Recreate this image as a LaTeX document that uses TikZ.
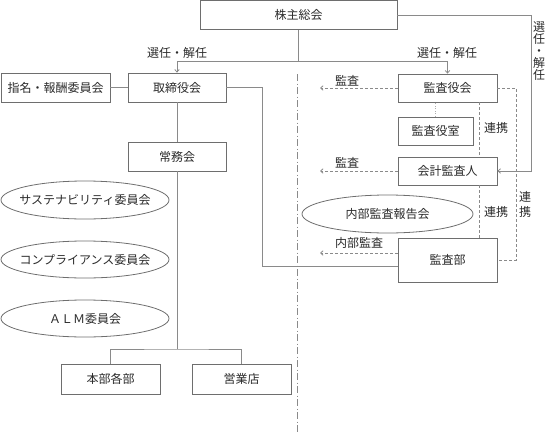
\documentclass[tikz,border=0pt]{standalone}
\usepackage{fontspec}
\setmainfont{Noto Sans CJK JP}
\usetikzlibrary{arrows.meta,shapes.geometric,calc}
\definecolor{boxc}{HTML}{6E6E6E}
\definecolor{linec}{HTML}{8A8A8A}
\definecolor{txt}{HTML}{2A2A2A}
\begin{document}
\begin{tikzpicture}[x=1pt,y=-1pt,
  box/.style={draw=boxc, line width=0.8pt, minimum height=29pt, inner sep=0pt,
    font=\fontsize{12}{13}\selectfont, text=txt},
  oval/.style={ellipse, draw=boxc, line width=0.8pt, inner sep=0pt,
    font=\fontsize{12}{13}\selectfont, text=txt},
  conn/.style={draw=linec, line width=0.8pt},
  dashc/.style={conn, dash pattern=on 3pt off 2pt},
  dotc/.style={draw=linec!70, line width=0.8pt, dash pattern=on 1pt off 1.5pt},
  divider/.style={draw=linec, line width=0.8pt, dash pattern=on 7pt off 2.5pt on 1pt off 2.5pt},
  tip/.style={-{Straight Barb[length=2.5pt,width=4.5pt]}},
  lbl/.style={inner sep=0pt, font=\fontsize{12}{13}\selectfont, text=txt},
  vlbl/.style={inner sep=0pt, align=center, text=txt}
]
\useasboundingbox (0,0) rectangle (546,434);

% nodes
\node[box, minimum width=197pt] (gm) at (298.5,15) {株主総会};
\node[box, minimum width=98pt] (board) at (177,87.5) {取締役会};
\node[box, minimum width=109pt] (nom) at (55.5,87.5) {指名・報酬委員会};
\node[box, minimum width=98pt] (jomu) at (177,156.5) {常務会};
\node[oval, minimum width=168pt, minimum height=38pt] (sus) at (85,200) {\makebox[0pt]{サステナビリティ委員会}};
\node[oval, minimum width=168pt, minimum height=37pt] (comp) at (85,259.5) {\makebox[0pt]{コンプライアンス委員会}};
\node[oval, minimum width=168pt, minimum height=37pt] (alm) at (85,318.5) {\makebox[0pt]{ＡＬＭ委員会}};
\node[box, minimum width=99pt, minimum height=30pt] (honbu) at (110.5,379) {本部各部};
\node[box, minimum width=99pt, minimum height=30pt] (eigyo) at (241.5,379) {営業店};

\node[box, minimum width=99pt, minimum height=28pt] (kyk) at (447.5,88) {監査役会};
\node[box, minimum width=75pt, minimum height=28pt] (shitsu) at (435.5,131) {監査役室};
\node[box, minimum width=99pt, minimum height=28pt] (kaikei) at (447.5,171) {会計監査人};
\node[oval, minimum width=171pt, minimum height=38pt] (naibu) at (387.5,214) {\makebox[0pt]{内部監査報告会}};
\node[box, minimum width=99pt, minimum height=44pt] (kansabu) at (447.5,260) {監査部};

% labels
\node[lbl] (l1) at (177,53) {選任・解任};
\node[lbl] (l2) at (447,53) {選任・解任};
\node[vlbl, font=\fontsize{12}{11.8}\selectfont] (l3) at (539,51) {選\\任\\・\\解\\任};
\node[lbl] (l4) at (347,81) {監査};
\node[lbl] (l5) at (347,163) {監査};
\node[lbl] (l6) at (359,243) {内部監査};
\node[lbl] (l7) at (496,128) {連携};
\node[lbl] (l8) at (496,212) {連携};
\node[vlbl, font=\fontsize{12}{15}\selectfont] (l9) at (525,204.5) {連\\携};

% coordinates
\coordinate (hy) at (0,61.5);
\coordinate (rt) at (531,15);
\coordinate (dtop) at (297.5,74);
\coordinate (dbot) at (297.5,434);
\coordinate (bj) at (262,266);
\coordinate (tj) at (177,349);
\coordinate (rd) at (516,88);
\coordinate (a1) at (320,88);
\coordinate (a2) at (320,171);
\coordinate (a3) at (320,253);
\coordinate (k1) at ($(kyk.south east)+(-18,0)$);
\coordinate (k2) at ($(kaikei.south east)+(-18,0)$);

% solid connectors
\draw[conn,tip] (gm.south) -- (gm.south |- hy) -| (board.north);
\draw[conn,tip] (gm.south) -- (gm.south |- hy) -| (kyk.north);
\draw[conn,tip] (gm.east) -- (rt) |- (kaikei.east);
\draw[conn] (nom.east) -- (board.west);
\draw[conn] (board.south) -- (jomu.north);
\draw[conn] (jomu.south) -- (tj);
\draw[conn] (honbu.north) |- (tj) -| (eigyo.north);
\draw[conn] (board.east) -| (bj) -- (bj -| kansabu.west);

% divider
\draw[divider] (dtop) -- (dbot);

% dashed connectors
\draw[dashc,tip] (kyk.west) -- (a1);
\draw[dashc,tip] (kaikei.west) -- (a2);
\draw[dashc,tip] ($(kansabu.west)+(0,-7)$) -- (a3);
\draw[dotc] (shitsu.north) -- (shitsu.north |- kyk.south);
\draw[dashc] (k1) -- (k1 |- kaikei.north);
\draw[dashc] (k2) -- (k2 |- kansabu.north);
\draw[dashc] (kyk.east) -- (rd) |- (kansabu.east);
\end{tikzpicture}
\end{document}
